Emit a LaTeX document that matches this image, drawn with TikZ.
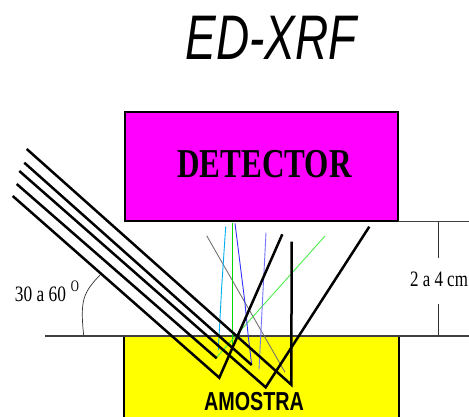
\documentclass[tikz,border=0pt]{standalone}
\usepackage{fontspec}
\setmainfont{Liberation Serif}
\setsansfont{Liberation Sans}
\definecolor{detectorpink}{RGB}{255,0,255}
\definecolor{sampleyellow}{RGB}{255,255,0}
\tikzset{
  ray/.style={line width=2.5pt, black},
  level/.style={line width=1.1pt, black!75},
  measure/.style={line width=0.7pt, black!80},
  emit/.style={line width=0.9pt}
}
\begin{document}
\begin{tikzpicture}[x=1pt, y=-1pt]
        \useasboundingbox (0, 0) rectangle (469, 417);

        \fill[sampleyellow] (124, 336) rectangle (399, 417);
        \draw[line width=1.1pt, black] (124, 417) -- (124, 336) -- (399, 336) -- (399, 417);
        \node[draw=black, line width=1.3pt, fill=detectorpink, minimum width=273pt, minimum height=109pt, inner sep=0pt, outer sep=0pt] (detector) at (261.5, 166.5) {};
        \node[font=\fontsize{63}{63}\selectfont\sffamily\itshape, xscale=0.73] (title) at (271, 37.5) {ED-XRF};
        \node[font=\fontsize{41}{41}\selectfont\bfseries, xscale=0.76] (detectorlabel) at (264.5, 164) {DETECTOR};
        \node[font=\fontsize{26}{26}\selectfont\sffamily\bfseries, xscale=0.76] (sample) at (254, 402) {AMOSTRA};

        \draw[level] (398, 221.5) -- (469, 221.5);
        \draw[level] (45, 336) -- (469, 336);

        \draw[measure] (438, 222) -- (438, 258);
        \draw[measure] (438, 304) -- (438, 336);
        \node[font=\fontsize{22}{22}\selectfont, xscale=0.77] (gap) at (439, 279) {2 a 4 cm};

        \node[font=\fontsize{22}{22}\selectfont, xscale=0.79] (angle) at (40.5, 294) {30 a 60};
        \node[font=\fontsize{16}{16}\selectfont, xscale=0.7] (degree) at (75, 286.5) {O};
        \draw[measure] (100, 275) .. controls (83, 293) and (80, 300) .. (83.7, 335.7);

        \draw[emit, black!55] (206.7, 235.7) -- (285, 372.3);
        \draw[emit, cyan] (225.7, 226.7) -- (221.7, 286.7) -- (218.3, 350);
        \draw[emit, green!85!black] (232.3, 223) -- (232.3, 345);
        \draw[emit, green!90!black!70] (215.7, 358.3) -- (325, 236);
        \draw[emit, blue!80!white] (235, 223.3) -- (245, 303.3) -- (248.3, 336.7) -- (251.7, 365);
        \draw[emit, blue!55!white] (266, 232.7) -- (259, 369.3);

        \draw[ray] (26.7, 149) -- (291.3, 384.7) -- (291.7, 241.7);
        \draw[ray] (24.3, 162.7) -- (251.7, 365);
        \draw[ray] (19.3, 171) -- (265.7, 387.3) -- (369.3, 226.7);
        \draw[ray] (16.7, 184) -- (216.7, 358.3);
        \draw[ray] (12.7, 196) -- (219.3, 377.7) -- (282.3, 234.3);
      \end{tikzpicture}
\end{document}
